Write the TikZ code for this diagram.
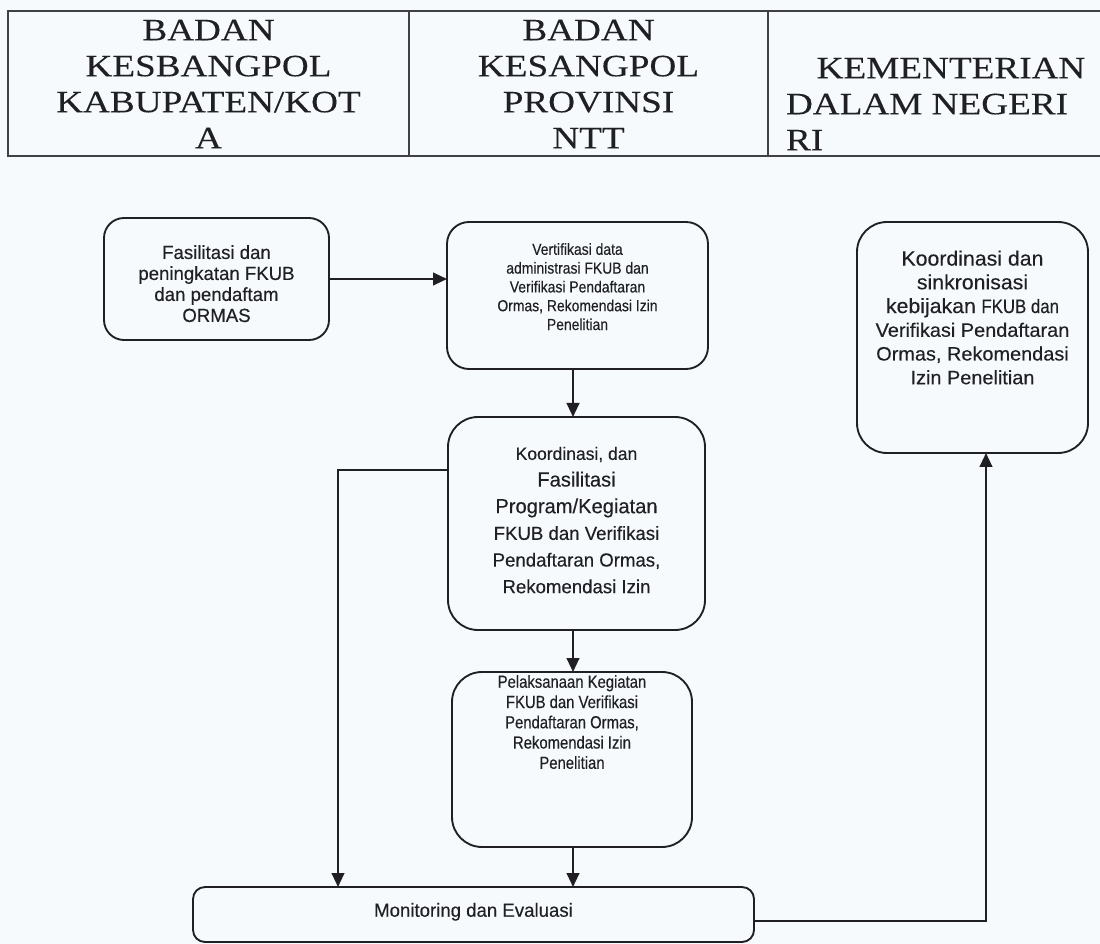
\documentclass[tikz,border=0pt]{standalone}
\usepackage{fontspec}
\setmainfont{Liberation Serif}
\newfontfamily\hdrfont[FakeStretch=1.2,FakeBold=0.2]{Liberation Serif}
\newfontfamily\sfA[FakeStretch=0.98,FakeBold=0.3]{Liberation Sans}
\newfontfamily\sfB[FakeStretch=0.87,FakeBold=0.3]{Liberation Sans}
\newfontfamily\sfD[FakeStretch=0.85,FakeBold=0.3]{Liberation Sans}
\newfontfamily\sfE[FakeStretch=1.03,FakeBold=0.3]{Liberation Sans}
\usetikzlibrary{arrows.meta,calc}
\definecolor{ink}{RGB}{32,32,36}
\definecolor{bgc}{RGB}{246,250,252}
\begin{document}
\begin{tikzpicture}[x=0.75pt,y=-0.75pt,
  every node/.style={inner sep=0pt, outer sep=0pt},
  every label/.style={text=ink, align=center},
  flowbox/.style={draw=ink, line width=1.4pt},
  arr/.style={draw=ink, line width=1.6pt, -{Triangle[length=10.5pt,width=9.5pt]}},
  hdrline/.style={draw=ink!85, line width=1.2pt},
  hdrtxt/.style={font=\hdrfont\fontsize{23.25pt}{27pt}\selectfont, align=center, text=ink}
]
\fill[bgc] (0,0) rectangle (1100,944);
\useasboundingbox (0,0) rectangle (1100,944);

% header table
\draw[hdrline] (1100,11) -- (8,11) -- (8,156) -- (1100,156);
\draw[hdrline] (409,11) -- (409,156);
\draw[hdrline] (768,11) -- (768,156);
\node[hdrtxt] (h1) at (208.5,84) {BADAN\\KESBANGPOL\\KABUPATEN/KOT\\A};
\node[hdrtxt] (h2) at (588.5,84) {BADAN\\KESANGPOL\\PROVINSI\\NTT};
\node[hdrtxt, align=left, anchor=west] (h3) at (786,104) {\hspace*{23pt}KEMENTERIAN\\DALAM NEGERI\\RI};

% boxes
\node[flowbox, rounded corners=15pt, minimum width=168.75pt, minimum height=91.5pt,
  label={[name=At, font=\sfA\fontsize{14.25pt}{15.75pt}\selectfont, yshift=-3.5pt]center:{Fasilitasi dan\\peningkatan FKUB\\dan pendaftam\\ORMAS}}] (A) at (216.5,279) {};

\node[flowbox, rounded corners=16.5pt, minimum width=195.75pt, minimum height=110.25pt,
  label={[name=Bt, font=\sfB\fontsize{12pt}{14.1pt}\selectfont, yshift=6.6pt]center:{Vertifikasi data\\administrasi FKUB dan\\Verifikasi Pendaftaran\\Ormas, Rekomendasi Izin\\Penelitian}}] (B) at (577.5,295.5) {};

\node[flowbox, rounded corners=22.5pt, minimum width=192.75pt, minimum height=159.75pt,
  label={[name=Ct, font=\sfA\fontsize{14.25pt}{20pt}\selectfont, yshift=2.5pt]center:{{\fontsize{13.4pt}{20pt}\selectfont Koordinasi, dan}\\{\fontsize{15.4pt}{20pt}\selectfont Fasilitasi}\\{\fontsize{15.4pt}{20pt}\selectfont Program/Kegiatan}\\FKUB dan Verifikasi\\Pendaftaran Ormas,\\Rekomendasi Izin}}] (C) at (576.5,523.5) {};

\node[flowbox, rounded corners=22.5pt, minimum width=180pt, minimum height=131.25pt,
  label={[name=Dt, font=\sfD\fontsize{13.1pt}{15.2pt}\selectfont, yshift=28.1pt]center:{Pelaksanaan Kegiatan\\FKUB dan Verifikasi\\Pendaftaran Ormas,\\Rekomendasi Izin\\Penelitian}}] (D) at (572,759.5) {};

\node[flowbox, rounded corners=22.5pt, minimum width=173.25pt, minimum height=173.25pt,
  label={[name=Et, font=\sfE\fontsize{14.5pt}{17.8pt}\selectfont, yshift=15pt]center:{{\fontsize{15.5pt}{17.8pt}\selectfont Koordinasi dan}\\{\fontsize{15.5pt}{17.8pt}\selectfont sinkronisasi}\\{\fontsize{15.5pt}{17.8pt}\selectfont kebijakan} {\sfB FKUB dan}\\Verifikasi Pendaftaran\\Ormas, Rekomendasi\\Izin Penelitian}}] (E) at (972.5,337.5) {};

\node[flowbox, rounded corners=9pt, minimum width=420.75pt, minimum height=41.25pt,
  label={[name=Mt, font=\sfA\fontsize{14.25pt}{16pt}\selectfont, yshift=2pt]center:{Monitoring dan Evaluasi}}] (M) at (473.5,914.5) {};

% connectors
\coordinate (colx) at (573,0);
\coordinate (lx) at (338,0);
\coordinate (rx) at (986,0);
\draw[arr] (A.east) -- (A.east -| B.west);
\draw[arr] (B.south -| colx) -- (C.north -| colx);
\draw[arr] (C.south -| colx) -- (D.north -| colx);
\draw[arr] (D.south -| colx) -- (M.north -| colx);
\draw[arr] ($(C.north west)!0.25!(C.south west)$) -| (M.north -| lx);
\draw[arr] ($(M.east)+(0,6.5)$) -| (E.south -| rx);
\end{tikzpicture}
\end{document}
